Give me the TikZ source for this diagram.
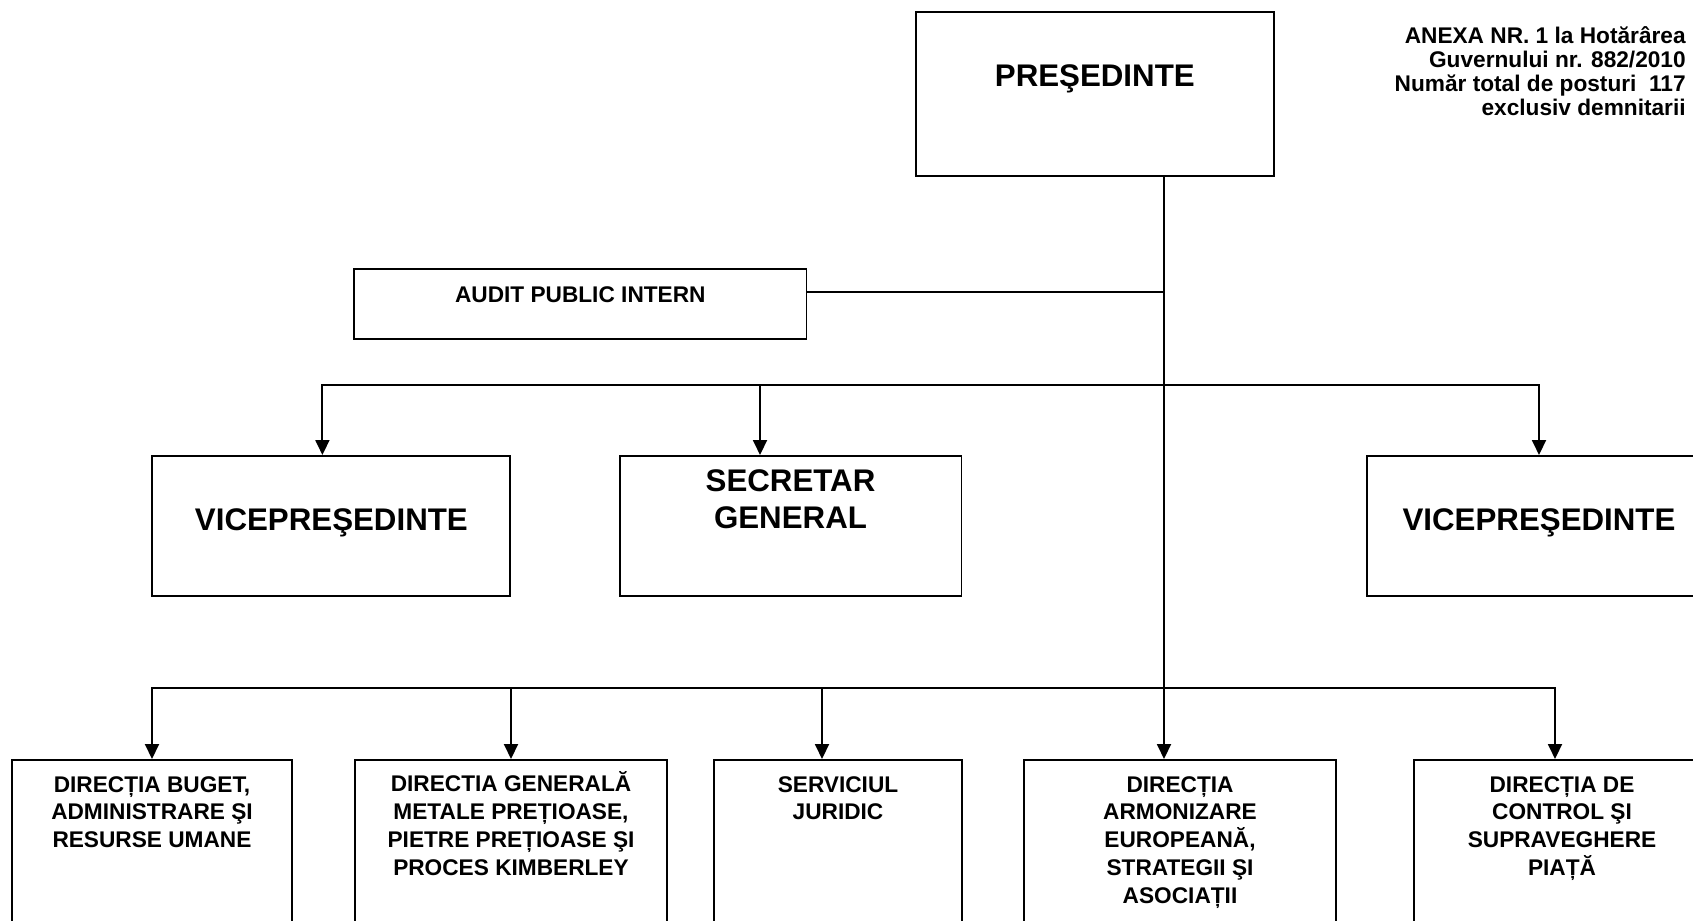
\documentclass[tikz,border=0pt]{standalone}
\usepackage{fontspec}
\setmainfont{Liberation Sans}
\usetikzlibrary{positioning,arrows.meta}

\begin{document}
\begin{tikzpicture}[x=0.02cm,y=-0.02cm,
  unit/.style={draw,line width=1.1pt,anchor=north,minimum height=2.8cm},
  bigtext/.style={font=\fontsize{17.8}{20.7}\selectfont\bfseries,align=center,inner sep=0pt},
  smalltext/.style={font=\fontsize{12.9}{15.8}\selectfont\bfseries,align=center,inner sep=0pt},
  arr/.style={-{Triangle[length=3mm,width=2.8mm]},line width=1.1pt},
  link/.style={line width=1.1pt}]
\useasboundingbox (0,0) rectangle (1693,920);
\clip (0,0) rectangle (1693,920);

% boxes
\node[unit,minimum width=7.17cm,minimum height=3.28cm] (pres) at (1094.8,10.8) {};
\node[unit,minimum width=9.05cm,minimum height=1.41cm] (audit) at (580.3,267.7) {};
\node[unit,minimum width=7.16cm] (vice1) at (331.4,455) {};
\node[unit,minimum width=6.84cm] (sec) at (790.5,455) {};
\node[unit,minimum width=6.88cm] (vice2) at (1539,455) {};
\node[unit,minimum width=5.60cm,minimum height=4cm] (bug) at (152,759) {};
\node[unit,minimum width=6.24cm,minimum height=4cm] (met) at (511,759) {};
\node[unit,minimum width=4.96cm,minimum height=4cm] (jur) at (838,759) {};
\node[unit,minimum width=6.24cm,minimum height=4cm] (arm) at (1180,759) {};
\node[unit,minimum width=5.92cm,minimum height=4cm] (ctrl) at (1562,759) {};

% texts
\node[bigtext,below=1.08cm of pres.north] (presT) {PREŞEDINTE};
\node[smalltext,below=0.38cm of audit.north] (auditT) {AUDIT PUBLIC INTERN};
\node[bigtext,below=1.06cm of vice1.north] (vice1T) {VICEPREŞEDINTE};
\node[bigtext,below=0.29cm of sec.north] (secT) {SECRETAR\\GENERAL};
\node[bigtext,below=1.06cm of vice2.north] (vice2T) {VICEPREŞEDINTE};
\node[smalltext,below=0.34cm of bug.north] (bugT) {DIRECȚIA BUGET,\\ADMINISTRARE ŞI\\RESURSE UMANE};
\node[smalltext,below=0.25cm of met.north] (metT) {DIRECTIA GENERALĂ\\METALE PREȚIOASE,\\PIETRE PREȚIOASE ŞI\\PROCES KIMBERLEY};
\node[smalltext,below=0.34cm of jur.north] (jurT) {SERVICIUL\\JURIDIC};
\node[smalltext,below=0.34cm of arm.north] (armT) {DIRECȚIA\\ARMONIZARE\\EUROPEANĂ,\\STRATEGII ŞI\\ASOCIAȚII};
\node[smalltext,below=0.34cm of ctrl.north] (ctrlT) {DIRECȚIA DE\\CONTROL ŞI\\SUPRAVEGHERE\\PIAȚĂ};
\node[anchor=north east,align=right,inner sep=0pt,
  font=\fontsize{12.9}{13.7}\selectfont\bfseries] (anexa) at (1686,26.5)
  {ANEXA NR. 1 la Hotărârea\\Guvernului nr. 882/2010\\Număr total de posturi\ \ 117\\exclusiv demnitarii};

% junctions and drops
\coordinate (j1) at (1164,292);
\coordinate (j2) at (1164,385);
\coordinate (j3) at (1164,688);
\coordinate (vd1) at ([xshift=-0.18cm]vice1.north);
\coordinate (vd2) at ([xshift=-0.61cm]sec.north);
\coordinate (ld3) at ([xshift=-0.32cm]jur.north);
\coordinate (ld5) at ([xshift=-0.14cm]ctrl.north);

\draw[link] (pres.south -| j1) -- (j3);
\draw[link] (audit.east |- j1) -- (j1);
\draw[arr] (j2) -| (vd1);
\draw[arr] (j2) -| (vice2.north);
\draw[arr] (vd2 |- j2) -- (vd2);
\draw[arr] (j3) -| (bug.north);
\draw[arr] (j3) -| (ld5);
\draw[arr] (met.north |- j3) -- (met.north);
\draw[arr] (ld3 |- j3) -- (ld3);
\draw[arr] (j3) -- (j3 |- arm.north);
\end{tikzpicture}
\end{document}
